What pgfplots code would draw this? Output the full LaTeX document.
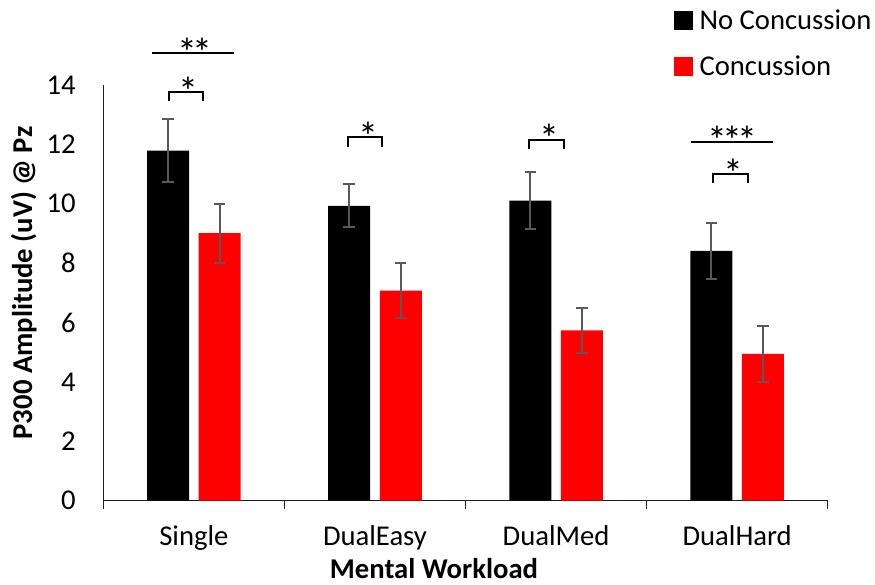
\documentclass[border=0pt]{standalone}
\usepackage{fontspec}
\setmainfont{Carlito}
\usepackage{pgfplots}
\pgfplotsset{compat=1.18}
\usepackage{pgfplotstable}
\definecolor{errgray}{RGB}{89,89,89}
\definecolor{axgray}{RGB}{30,30,30}
\pgfplotstableread{
x nc ncerr c cerr
0 11.79 1.05 9.01 0.99
1 9.93 0.72 7.07 0.93
2 10.10 0.96 5.73 0.75
3 8.41 0.95 4.94 0.93
}\datatable
\newcommand{\lbl}{\fontsize{21.5}{25.8}\selectfont}
\newcommand{\stf}{\fontsize{30}{30}\selectfont}
\begin{document}
\begin{tikzpicture}
\path[use as bounding box] (-77.5pt,-63.2pt) rectangle (578.8pt,375.5pt);
\begin{axis}[
 x=135.83pt, y=22.27pt,
 xmin=-0.5, xmax=3.5, ymin=0, ymax=14,
 clip=false,
 axis x line*=bottom, axis y line*=left,
 axis line style={line width=1pt, color=axgray},
 ybar, bar width=31.5pt,
 xtick={0,1,2,3},
 xticklabels={Single,DualEasy,DualMed,DualHard},
 minor xtick={-0.5,0.5,1.5,2.5,3.5},
 ytick={0,2,...,14},
 tick align=outside,
 major tick length=0pt,
 minor tick length=6.25pt,
 minor tick style={line width=1pt, color=axgray},
 /pgf/number format/assume math mode=true,
 tick label style={font=\lbl, inner sep=0pt},
 x tick label style={anchor=base, yshift=-34pt},
 y tick label style={anchor=east, xshift=-20.5pt},
 xlabel={Mental Workload},
 ylabel={P300 Amplitude (uV) @ Pz},
 xlabel style={font=\lbl\bfseries, at={(axis description cs:0.4565,-0.1884)}, anchor=base, inner sep=0pt},
 ylabel style={font=\lbl\bfseries, at={(axis description cs:-0.0984,0.5237)}, anchor=base, inner sep=0pt},
 legend cell align=left,
 legend style={at={(axis description cs:0.7878,1.1773)}, anchor=north west, draw=none, fill=none,
   inner sep=0pt, outer sep=0pt, font=\lbl, row sep=20.5pt, column sep=5.25pt,
   nodes={inner sep=0pt, text height=14pt, text depth=0pt}},
]
\addlegendimage{legend image code/.code={\fill[black] (0pt,-6.75pt) rectangle (13.5pt,6.75pt);}}
\addlegendentry{No Concussion}
\addlegendimage{legend image code/.code={\fill[red] (0pt,-6.75pt) rectangle (13.5pt,6.75pt);}}
\addlegendentry{Concussion}

\addplot[forget plot, fill=black, draw=none, bar shift=-19.35pt,
  error bars/.cd, y dir=both, y explicit,
  error bar style={line width=1.5pt, errgray},
  error mark options={rotate=90, mark size=4.3pt, line width=1.5pt, errgray}]
  table[x=x, y=nc, y error=ncerr] {\datatable};
\addplot[forget plot, fill=red, draw=none, bar shift=19.35pt,
  error bars/.cd, y dir=both, y explicit,
  error bar style={line width=1.5pt, errgray},
  error mark options={rotate=90, mark size=4.3pt, line width=1.5pt, errgray}]
  table[x=x, y=c, y error=cerr] {\datatable};

% significance annotations
\draw[line width=1.5pt] (axis cs:-0.233,15.07) -- (axis cs:0.220,15.07);
\node[anchor=base, font=\stf, inner sep=0pt] at (axis cs:0.006,14.62) {*\kern-3.6pt*};
\draw[line width=1.5pt] (axis cs:-0.137,13.46) |- (axis cs:0.052,13.76) -- (axis cs:0.052,13.46);
\node[anchor=base, font=\stf, inner sep=0pt] at (axis cs:-0.029,13.32) {*};

\draw[line width=1.5pt] (axis cs:0.851,11.92) |- (axis cs:1.039,12.26) -- (axis cs:1.039,11.92);
\node[anchor=base, font=\stf, inner sep=0pt] at (axis cs:0.962,11.80) {*};

\draw[line width=1.5pt] (axis cs:1.852,11.84) |- (axis cs:2.042,12.16) -- (axis cs:2.042,11.84);
\node[anchor=base, font=\stf, inner sep=0pt] at (axis cs:1.963,11.72) {*};

\draw[line width=1.5pt] (axis cs:2.745,12.07) -- (axis cs:3.200,12.07);
\node[anchor=base, font=\stf, inner sep=0pt] at (axis cs:2.973,11.66) {*\kern-3.6pt*\kern-3.6pt*};
\draw[line width=1.5pt] (axis cs:2.868,10.69) |- (axis cs:3.058,11.01) -- (axis cs:3.058,10.69);
\node[anchor=base, font=\stf, inner sep=0pt] at (axis cs:2.981,10.56) {*};
\end{axis}
\end{tikzpicture}
\end{document}
